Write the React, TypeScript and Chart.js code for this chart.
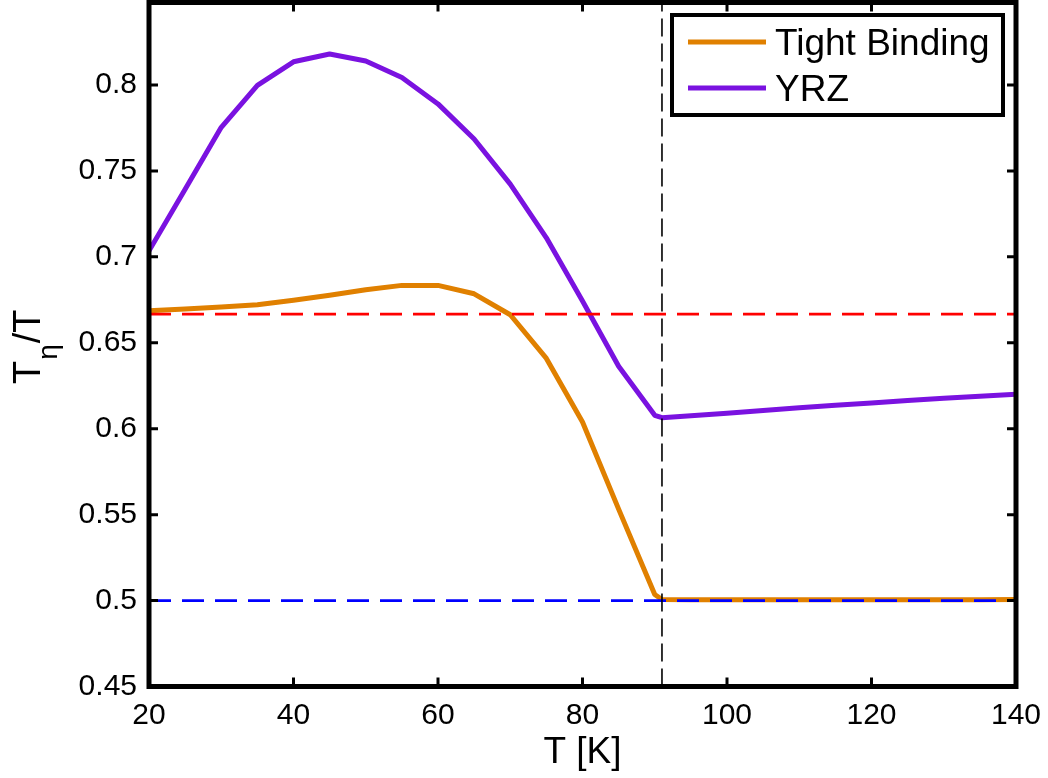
import React, { useEffect, useRef } from "react";
import { Chart, registerables } from "chart.js";

Chart.register(...registerables);

// ---- data ----
const temperatures = [20, 25, 30, 35, 40, 45, 50, 55, 60, 65, 70, 75, 80, 85, 90, 91, 95, 100, 105, 110, 115, 120, 125, 130, 135, 140];
const tightBinding = [0.6686, 0.6696, 0.6708, 0.6721, 0.6747, 0.6776, 0.6809, 0.6834, 0.6834, 0.6785, 0.6663, 0.6409, 0.6039, 0.5532, 0.5035, 0.5006, 0.5005, 0.5005, 0.5005, 0.5005, 0.5005, 0.5005, 0.5005, 0.5005, 0.5005, 0.5006];
const yrz = [0.7035, 0.7394, 0.7754, 0.7998, 0.8135, 0.818, 0.814, 0.8043, 0.789, 0.7686, 0.7423, 0.7111, 0.6743, 0.6363, 0.6078, 0.6064, 0.6075, 0.609, 0.6106, 0.6122, 0.6136, 0.615, 0.6164, 0.6177, 0.6189, 0.62];
const xTicks = [20, 40, 60, 80, 100, 120, 140];
const yTicks = [0.45, 0.5, 0.55, 0.6, 0.65, 0.7, 0.75, 0.8];
const upperRef = 2 / 3;
const lowerRef = 0.5;
const tcValue = 91;
const xRange = [20, 140];
const yRange = [0.45, 0.848];
const seriesNames = ["Tight Binding", "YRZ"];

const ORANGE = "#E08000";
const PURPLE = "#7A12E0";
const FONT = "'Liberation Sans', Arial, Helvetica, sans-serif";

const framePlugin = {
  id: "frame",
  afterDatasetsDraw(chart: any) {
    const { ctx, chartArea: a, scales } = chart;
    ctx.save();
    ctx.strokeStyle = "#000";
    // ticks
    ctx.lineWidth = 3;
    ctx.beginPath();
    for (const v of xTicks) {
      const px = scales.x.getPixelForValue(v);
      ctx.moveTo(px, a.bottom);
      ctx.lineTo(px, a.bottom - 9);
      ctx.moveTo(px, a.top);
      ctx.lineTo(px, a.top + 9);
    }
    for (const v of yTicks) {
      const py = scales.y.getPixelForValue(v);
      ctx.moveTo(a.left, py);
      ctx.lineTo(a.left + 9, py);
      ctx.moveTo(a.right, py);
      ctx.lineTo(a.right - 9, py);
    }
    ctx.stroke();
    // frame
    ctx.lineWidth = 5;
    ctx.strokeRect(a.left, a.top, a.right - a.left, a.bottom - a.top);

    // x title
    ctx.fillStyle = "#000";
    ctx.font = `37px ${FONT}`;
    ctx.textAlign = "center";
    ctx.textBaseline = "alphabetic";
    ctx.fillText("T [K]", (a.left + a.right) / 2, 763);

    // y title  T_η/T
    ctx.save();
    ctx.translate(40, 384);
    ctx.rotate(-Math.PI / 2);
    ctx.textAlign = "left";
    ctx.font = `38px ${FONT}`;
    ctx.fillText("T", 0, 0);
    let u = ctx.measureText("T").width + 1;
    ctx.font = `28px ${FONT}`;
    ctx.fillText("η", u, 17);
    u += ctx.measureText("η").width + 1;
    ctx.font = `38px ${FONT}`;
    ctx.fillText("/T", u, 0);
    ctx.restore();

    // legend
    const lx = 672, ly = 15, lw = 331, lh = 100;
    ctx.fillStyle = "#fff";
    ctx.fillRect(lx, ly, lw, lh);
    ctx.lineWidth = 4;
    ctx.strokeStyle = "#000";
    ctx.strokeRect(lx, ly, lw, lh);
    const rows = [
      { name: seriesNames[0], color: ORANGE, y: 42 },
      { name: seriesNames[1], color: PURPLE, y: 88 },
    ];
    ctx.font = `37px ${FONT}`;
    ctx.textAlign = "left";
    for (const r of rows) {
      ctx.strokeStyle = r.color;
      ctx.lineWidth = 5;
      ctx.beginPath();
      ctx.moveTo(688, r.y);
      ctx.lineTo(766, r.y);
      ctx.stroke();
      ctx.fillStyle = "#000";
      ctx.fillText(r.name, 775, r.y + 13);
    }
    ctx.restore();
  },
};

export default function App() {
  const ref = useRef<HTMLCanvasElement | null>(null);
  useEffect(() => {
    if (!ref.current) return;
    const chart = new Chart(ref.current, {
      type: "line",
      data: {
        datasets: [
          {
            label: "Tc",
            data: [{ x: tcValue, y: yRange[0] }, { x: tcValue, y: yRange[1] }],
            borderColor: "#000",
            borderWidth: 1.6,
            borderDash: [18, 7],
            pointRadius: 0,
            order: 0,
          },
          {
            label: "2/3",
            data: [{ x: xRange[0], y: upperRef }, { x: xRange[1], y: upperRef }],
            borderColor: "#ff0000",
            borderWidth: 2.8,
            borderDash: [22, 11],
            pointRadius: 0,
            order: 0,
          },
          {
            label: "1/2",
            data: [{ x: xRange[0], y: lowerRef }, { x: xRange[1], y: lowerRef }],
            borderColor: "#0000ff",
            borderWidth: 2.8,
            borderDash: [22, 11],
            pointRadius: 0,
            order: 0,
          },
          {
            label: seriesNames[1],
            data: temperatures.map((t, i) => ({ x: t, y: yrz[i] })),
            borderColor: PURPLE,
            borderWidth: 5,
            pointRadius: 0,
            tension: 0,
            borderJoinStyle: "round",
            order: 1,
          },
          {
            label: seriesNames[0],
            data: temperatures.map((t, i) => ({ x: t, y: tightBinding[i] })),
            borderColor: ORANGE,
            borderWidth: 5,
            pointRadius: 0,
            tension: 0,
            borderJoinStyle: "round",
            order: 2,
          },
        ] as any,
      },
      options: {
        animation: false,
        responsive: false,
        events: [],
        layout: { padding: { top: 2.5, right: 32, left: 0, bottom: 0 } },
        plugins: { legend: { display: false }, tooltip: { enabled: false } },
        scales: {
          x: {
            type: "linear",
            min: xRange[0],
            max: xRange[1],
            grid: { display: false, drawTicks: false },
            border: { display: false },
            ticks: {
              color: "#000",
              font: { family: FONT, size: 30 },
              padding: 11,
              maxRotation: 0,
              autoSkip: false,
            },
            afterBuildTicks: (s: any) => {
              s.ticks = xTicks.map((v) => ({ value: v }));
            },
            afterFit: (s: any) => {
              s.height = 91.5;
              s.paddingLeft = 0;
              s.paddingRight = 0;
            },
          },
          y: {
            type: "linear",
            min: yRange[0],
            max: yRange[1],
            grid: { display: false, drawTicks: false },
            border: { display: false },
            ticks: {
              color: "#000",
              font: { family: FONT, size: 30 },
              padding: 12,
              autoSkip: false,
              callback: (v: any) => String(Number(Number(v).toFixed(2))),
            },
            afterBuildTicks: (s: any) => {
              s.ticks = yTicks.map((v) => ({ value: v }));
            },
            afterFit: (s: any) => {
              s.width = 149;
              s.paddingTop = 0;
              s.paddingBottom = 0;
            },
          },
        },
      },
      plugins: [framePlugin],
    });
    return () => chart.destroy();
  }, []);
  return (
    <canvas
      ref={ref}
      width={1048}
      height={778}
      style={{ position: "absolute", left: 0, top: 0, width: 1048, height: 778, background: "#fff" }}
    />
  );
}
